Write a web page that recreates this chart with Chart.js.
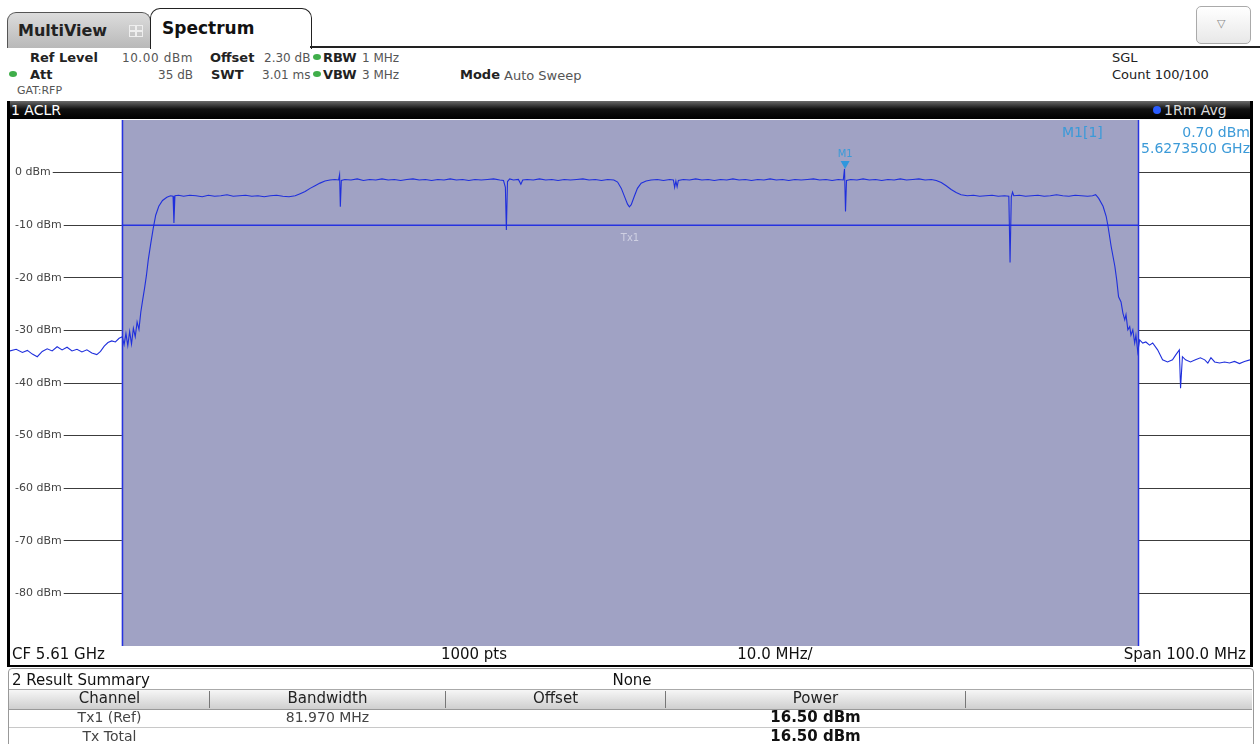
<!DOCTYPE html>
<html><head><meta charset="utf-8">
<script src="https://cdn.jsdelivr.net/npm/chart.js@4"></script>
<style>
body{margin:0;width:1260px;height:744px;background:#fff;position:relative;overflow:hidden;font-family:"DejaVu Sans",Verdana,sans-serif;color:#222;}
.a{position:absolute;white-space:nowrap;line-height:1;}
.b{font-weight:bold;}
.v{color:#555;font-size:12px !important;}
.dot{position:absolute;width:8px;height:6px;border-radius:50%;background:#3fae4a;}
.sep{position:absolute;width:1px;background:#777;}
</style></head>
<body>
<!-- tabs -->
<div class="a" style="left:7px;top:12px;width:142px;height:35px;background:linear-gradient(#dcdcdc,#b9b9b9);border:1px solid #555;border-bottom:none;border-radius:9px 9px 0 0;"></div>
<div class="a b" style="left:18px;top:23px;font-size:16px;color:#222;">MultiView</div>
<div class="a" style="left:129px;top:25px;width:5px;height:4px;border:1px solid #eee;"></div>
<div class="a" style="left:136px;top:25px;width:5px;height:4px;border:1px solid #eee;"></div>
<div class="a" style="left:129px;top:31px;width:5px;height:4px;border:1px solid #eee;"></div>
<div class="a" style="left:136px;top:31px;width:5px;height:4px;border:1px solid #eee;"></div>
<div class="a" style="left:150px;top:8px;width:160px;height:40px;background:#fff;border:1.5px solid #222;border-bottom:none;border-radius:10px 10px 0 0;"></div>
<div class="a b" style="left:162px;top:20px;font-size:17px;color:#111;">Spectrum</div>
<div class="a" style="left:310px;top:46px;width:950px;height:2px;background:#222;"></div>
<div class="a" style="left:1196px;top:6px;width:53px;height:36px;border:1px solid #aaa;border-radius:5px;background:linear-gradient(#fff,#e8e8e8);"></div>
<div class="a" style="left:1217px;top:18px;font-size:11px;color:#888;">&#9661;</div>

<!-- info rows -->
<div class="a b" style="left:30px;top:51px;font-size:13px;">Ref Level</div>
<div class="a v" style="left:100px;top:52px;width:93px;text-align:right;letter-spacing:0.6px;">10.00 dBm</div>
<div class="a b" style="left:210px;top:51px;font-size:13px;">Offset</div>
<div class="a v" style="left:264px;top:52px;">2.30 dB</div>
<div class="dot" style="left:313px;top:54px;"></div>
<div class="a b" style="left:323px;top:51px;font-size:13px;">RBW</div>
<div class="a v" style="left:362px;top:52px;">1 MHz</div>

<div class="dot" style="left:9px;top:71px;"></div>
<div class="a b" style="left:30px;top:68px;font-size:13px;">Att</div>
<div class="a v" style="left:150px;top:69px;width:43px;text-align:right;">35 dB</div>
<div class="a b" style="left:211px;top:68px;font-size:13px;">SWT</div>
<div class="a v" style="left:262px;top:69px;">3.01 ms</div>
<div class="dot" style="left:313px;top:71px;"></div>
<div class="a b" style="left:323px;top:68px;font-size:13px;">VBW</div>
<div class="a v" style="left:362px;top:69px;">3 MHz</div>
<div class="a b" style="left:460px;top:68px;font-size:13px;">Mode</div>
<div class="a v" style="left:504px;top:69px;font-size:13px !important;">Auto Sweep</div>
<div class="a" style="left:17px;top:85px;font-size:11px;color:#555;">GAT:RFP</div>

<div class="a" style="left:1112px;top:51px;font-size:13px;color:#222;">SGL</div>
<div class="a" style="left:1112px;top:68px;font-size:13px;color:#222;">Count 100/100</div>

<!-- title bar -->
<div class="a" style="left:7px;top:101px;width:1246px;height:18px;background:linear-gradient(#6a6a6a 0%,#111 45%,#000 100%);"></div>
<div class="a" style="left:11px;top:103px;font-size:14px;color:#fff;">1 ACLR</div>
<div class="a" style="left:1153px;top:106px;width:8px;height:8px;border-radius:50%;background:#2a5cff;"></div>
<div class="a" style="left:1164px;top:103px;font-size:14px;color:#ddd;">1Rm Avg</div>

<!-- frame -->
<div class="a" style="left:7px;top:101px;width:3px;height:566px;background:#000;"></div>
<div class="a" style="left:1250px;top:101px;width:3px;height:566px;background:#000;"></div>

<div class="a" style="left:10px;top:120px;width:1240px;height:526px;">
<canvas id="c" width="1240" height="526"></canvas>
</div>

<!-- marker readout -->
<div class="a" style="left:1062px;top:125px;font-size:14px;color:#3b9ad8;">M1[1]</div>
<div class="a" style="left:1100px;top:125px;width:150px;text-align:right;font-size:14px;color:#3b9ad8;">0.70 dBm</div>
<div class="a" style="left:1090px;top:141px;width:160px;text-align:right;font-size:14px;color:#3b9ad8;">5.6273500 GHz</div>

<!-- bottom bar -->
<div class="a" style="left:12px;top:647px;font-size:15px;color:#111;">CF 5.61 GHz</div>
<div class="a" style="left:374px;top:647px;width:200px;text-align:center;font-size:15px;color:#111;">1000 pts</div>
<div class="a" style="left:675px;top:647px;width:200px;text-align:center;font-size:15px;color:#111;">10.0 MHz/</div>
<div class="a" style="left:1000px;top:647px;width:246px;text-align:right;font-size:15px;color:#111;">Span 100.0 MHz</div>
<div class="a" style="left:7px;top:665px;width:1246px;height:2px;background:#000;"></div>

<!-- result summary -->
<div class="a" style="left:8px;top:668px;width:1244px;height:80px;border:1px solid #999;border-radius:4px;"></div>
<div class="a" style="left:12px;top:673px;font-size:15px;color:#111;">2 Result Summary</div>
<div class="a" style="left:532px;top:673px;width:200px;text-align:center;font-size:15px;color:#111;">None</div>
<div class="a" style="left:9px;top:689px;width:1243px;height:19px;background:linear-gradient(#f6f6f6,#cfcfcf);border-top:1px solid #aaa;border-bottom:1px solid #999;"></div>
<div class="sep" style="left:209px;top:691px;height:17px;"></div>
<div class="sep" style="left:445px;top:691px;height:17px;"></div>
<div class="sep" style="left:665px;top:691px;height:17px;"></div>
<div class="sep" style="left:965px;top:691px;height:17px;"></div>
<div class="a" style="left:10px;top:691px;width:199px;text-align:center;font-size:15px;color:#222;">Channel</div>
<div class="a" style="left:210px;top:691px;width:235px;text-align:center;font-size:15px;color:#222;">Bandwidth</div>
<div class="a" style="left:446px;top:691px;width:219px;text-align:center;font-size:15px;color:#222;">Offset</div>
<div class="a" style="left:666px;top:691px;width:299px;text-align:center;font-size:15px;color:#222;">Power</div>
<div class="a" style="left:9px;top:727px;width:1243px;height:1px;background:#c8c8c8;"></div>
<div class="a" style="left:10px;top:710px;width:199px;text-align:center;font-size:14px;color:#444;">Tx1 (Ref)</div>
<div class="a" style="left:210px;top:710px;width:235px;text-align:center;font-size:14px;color:#444;">81.970 MHz</div>
<div class="a b" style="left:666px;top:710px;width:299px;text-align:center;font-size:15px;color:#111;">16.50 dBm</div>
<div class="a" style="left:10px;top:729px;width:199px;text-align:center;font-size:14px;color:#444;">Tx Total</div>
<div class="a b" style="left:666px;top:729px;width:299px;text-align:center;font-size:15px;color:#111;">16.50 dBm</div>

<script>
// ---- data (frequency offset from CF 5.61 GHz, MHz / level dBm) ----
const freqMHz = [
-50.0,-49.5,-49.0,-48.6,-48.2,-47.8,-47.4,-47.0,-46.6,-46.2,-45.8,-45.4,-45.0,-44.6,-44.2,-43.8,-43.4,-43.0,-42.7,-42.4,
-42.1,-41.8,-41.5,-41.2,-40.95,-40.8,-40.65,-40.5,-40.35,-40.2,-40.05,-39.9,-39.75,-39.6,-39.45,-39.3,-39.15,-39.0,-38.85,-38.65,
-38.45,-38.25,-38.0,-37.7,-37.35,-37.05,-36.85,-36.78,-36.7,-36.4,-36.0,-35.5,-35.0,-34.5,-34.0,-33.5,-33.0,-32.5,-32.0,-31.5,
-31.0,-30.5,-30.0,-29.5,-29.0,-28.5,-28.0,-27.5,-27.0,-26.6,-26.2,-25.8,-25.4,-25.0,-24.6,-24.2,-23.8,-23.5,-23.42,-23.36,
-23.28,-23.0,-22.5,-22.0,-21.5,-21.0,-20.5,-20.0,-19.5,-19.0,-18.5,-18.0,-17.5,-17.0,-16.5,-16.0,-15.5,-15.0,-14.5,-14.0,
-13.5,-13.0,-12.5,-12.0,-11.5,-11.0,-10.5,-10.2,-10.05,-9.97,-9.88,-9.7,-9.4,-9.0,-8.8,-8.65,-8.3,-7.8,-7.3,-6.8,
-6.3,-5.8,-5.3,-4.8,-4.3,-3.8,-3.3,-2.8,-2.3,-1.8,-1.3,-1.0,-0.7,-0.4,-0.2,-0.05,0.1,0.35,0.6,0.9,
1.3,1.7,2.2,2.7,3.2,3.5,3.6,3.7,3.8,3.9,4.3,4.8,5.3,5.8,6.3,6.8,7.3,7.8,8.3,8.8,
9.3,9.8,10.3,10.8,11.3,11.8,12.3,12.8,13.3,13.8,14.3,14.8,15.3,15.8,16.3,16.8,17.2,17.3,17.38,17.46,
17.8,18.3,18.8,19.3,19.8,20.3,20.8,21.3,21.8,22.3,22.8,23.3,23.8,24.3,24.7,25.1,25.5,25.9,26.3,26.7,
27.2,27.7,28.2,28.7,29.2,29.7,30.2,30.55,30.65,30.75,30.85,30.95,31.4,31.9,32.4,32.9,33.4,33.9,34.4,34.9,
35.4,35.9,36.4,36.9,37.3,37.55,37.8,38.15,38.4,38.55,38.8,39.1,39.25,39.4,39.6,39.75,39.9,40.0,40.15,40.3,
40.4,40.55,40.7,40.8,40.95,41.1,41.35,41.6,41.9,42.15,42.55,42.95,43.35,43.75,44.0,44.3,44.4,44.55,44.8,45.2,
45.6,46.0,46.35,46.6,46.85,47.15,47.55,47.95,48.35,48.75,49.15,49.55,50.0
];
const levelDbm = [
-33.9,-33.6,-34.2,-33.8,-34.5,-35.0,-34.0,-33.5,-33.9,-33.1,-33.7,-33.2,-33.9,-33.6,-34.1,-33.7,-34.3,-34.6,-34.0,-33.0,
-32.3,-32.0,-32.2,-31.5,-31.2,-32.7,-30.6,-32.9,-30.2,-32.6,-29.6,-31.2,-28.4,-29.8,-26.5,-24.2,-22.0,-19.6,-16.6,-13.5,
-10.6,-8.1,-6.4,-5.3,-4.7,-4.4,-4.5,-9.6,-4.4,-4.3,-4.5,-4.3,-4.4,-4.6,-4.3,-4.5,-4.4,-4.2,-4.5,-4.4,
-4.3,-4.5,-4.4,-4.6,-4.4,-4.3,-4.5,-4.6,-4.4,-4.0,-3.6,-3.0,-2.5,-2.0,-1.6,-1.4,-1.3,-1.4,-0.4,-6.5,
-1.5,-1.3,-1.4,-1.2,-1.5,-1.3,-1.4,-1.2,-1.4,-1.3,-1.5,-1.3,-1.2,-1.4,-1.3,-1.5,-1.3,-1.4,-1.2,-1.4,
-1.3,-1.5,-1.3,-1.4,-1.3,-1.2,-1.4,-1.5,-2.8,-10.9,-1.7,-1.2,-1.4,-1.3,-2.2,-1.4,-1.3,-1.4,-1.2,-1.4,
-1.3,-1.5,-1.3,-1.4,-1.3,-1.2,-1.4,-1.3,-1.5,-1.3,-1.4,-1.8,-3.0,-4.8,-6.0,-6.5,-6.1,-4.5,-3.0,-2.0,
-1.6,-1.4,-1.3,-1.5,-1.3,-1.4,-2.8,-1.6,-2.7,-1.5,-1.3,-1.4,-1.2,-1.4,-1.3,-1.5,-1.3,-1.4,-1.2,-1.4,
-1.3,-1.5,-1.3,-1.4,-1.2,-1.4,-1.3,-1.5,-1.3,-1.4,-1.3,-1.2,-1.4,-1.3,-1.5,-1.3,-1.4,0.7,-7.4,-1.5,
-1.3,-1.4,-1.2,-1.4,-1.3,-1.5,-1.3,-1.4,-1.2,-1.4,-1.3,-1.2,-1.4,-1.3,-1.5,-1.9,-2.5,-3.2,-3.8,-4.2,
-4.4,-4.3,-4.5,-4.4,-4.3,-4.5,-4.4,-4.5,-17.1,-4.6,-3.7,-4.4,-4.3,-4.5,-4.4,-4.3,-4.5,-4.4,-4.2,-4.4,
-4.5,-4.3,-4.4,-4.5,-4.4,-4.2,-4.9,-6.4,-8.3,-10.2,-14.0,-17.8,-20.4,-23.6,-24.6,-26.7,-28.0,-27.0,-29.9,-29.3,
-30.9,-29.9,-32.4,-30.9,-34.1,-31.8,-32.4,-32.2,-32.8,-32.4,-33.7,-35.6,-36.0,-35.6,-34.7,-33.7,-41.0,-35.0,-35.6,-36.0,
-35.6,-35.2,-35.6,-36.2,-35.2,-36.0,-36.2,-36.0,-36.2,-35.9,-36.3,-35.9,-35.6
];
const yTickDbm = [0,-10,-20,-30,-40,-50,-60,-70,-80];
const channelEdgesMHz = [-40.985, 40.985];   // Tx1 bandwidth 81.970 MHz
const txLevelDbm = [-10, -10];
const markerFreqMHz = [17.35];
const markerLevelDbm = [0.70];
const markerNames = ['M1'];
const channelNames = ['Tx1'];

const shadePlugin = {
  id: 'shade',
  beforeDatasetsDraw(c) {
    const {ctx, chartArea: a, scales: {x}} = c;
    const l = x.getPixelForValue(channelEdgesMHz[0]);
    const r = x.getPixelForValue(channelEdgesMHz[1]);
    ctx.save();
    ctx.fillStyle = '#a0a2c4';
    ctx.fillRect(l, a.top, r - l, a.bottom - a.top);
    ctx.strokeStyle = '#2633e0';
    ctx.lineWidth = 1.5;
    ctx.beginPath();
    ctx.moveTo(Math.round(l) + 0.5, a.top); ctx.lineTo(Math.round(l) + 0.5, a.bottom);
    ctx.moveTo(Math.round(r) + 0.5, a.top); ctx.lineTo(Math.round(r) + 0.5, a.bottom);
    ctx.stroke();
    ctx.fillStyle = '#cfd0e2';
    ctx.font = '10px "DejaVu Sans"';
    ctx.textAlign = 'center';
    ctx.textBaseline = 'middle';
    ctx.fillText(channelNames[0], x.getPixelForValue((channelEdgesMHz[0] + channelEdgesMHz[1]) / 2), c.scales.y.getPixelForValue(txLevelDbm[0]) + 13);
    ctx.restore();
  },
  afterDatasetsDraw(c) {
    const {ctx, scales: {x, y}} = c;
    ctx.save();
    markerFreqMHz.forEach((f, i) => {
      const px = x.getPixelForValue(f), py = y.getPixelForValue(markerLevelDbm[i]);
      ctx.fillStyle = '#2e97dd';
      ctx.beginPath();
      ctx.moveTo(px, py); ctx.lineTo(px - 4.5, py - 8); ctx.lineTo(px + 4.5, py - 8); ctx.closePath();
      ctx.fill();
      ctx.font = '10px "DejaVu Sans"';
      ctx.textAlign = 'center';
      ctx.textBaseline = 'middle';
      ctx.fillStyle = '#3b9ad8';
      ctx.fillText(markerNames[i], px, py - 15);
    });
    ctx.restore();
  }
};

new Chart(document.getElementById('c'), {
  type: 'line',
  data: {
    datasets: [
      { data: freqMHz.map((f, i) => ({x: f, y: levelDbm[i]})), borderColor: '#1f2fdc', borderWidth: 1.1, pointRadius: 0, tension: 0, fill: false },
      { data: channelEdgesMHz.map((f, i) => ({x: f, y: txLevelDbm[i]})), borderColor: '#2633e0', borderWidth: 1.5, pointRadius: 0, fill: false }
    ]
  },
  options: {
    responsive: false, animation: false, events: [],
    layout: {padding: 0},
    plugins: {legend: {display: false}, tooltip: {enabled: false}},
    scales: {
      x: {type: 'linear', min: -50, max: 50, display: false},
      y: {
        type: 'linear', min: -90, max: 10, position: 'left',
        afterBuildTicks: s => { s.ticks = yTickDbm.map(v => ({value: v})); },
        afterFit: s => { s.width = 0; s.paddingTop = 0; s.paddingBottom = 0; },
        grid: {color: '#3c3c3c', lineWidth: 1, drawTicks: false},
        border: {display: false},
        ticks: {
          mirror: true, padding: 5, color: '#444',
          font: {family: 'DejaVu Sans', size: 11},
          callback: v => v + ' dBm',
          showLabelBackdrop: true, backdropColor: '#ffffff',
          backdropPadding: {left: 5, right: 2, top: 1, bottom: 1}
        }
      }
    }
  },
  plugins: [shadePlugin]
});
</script>
</body></html>
